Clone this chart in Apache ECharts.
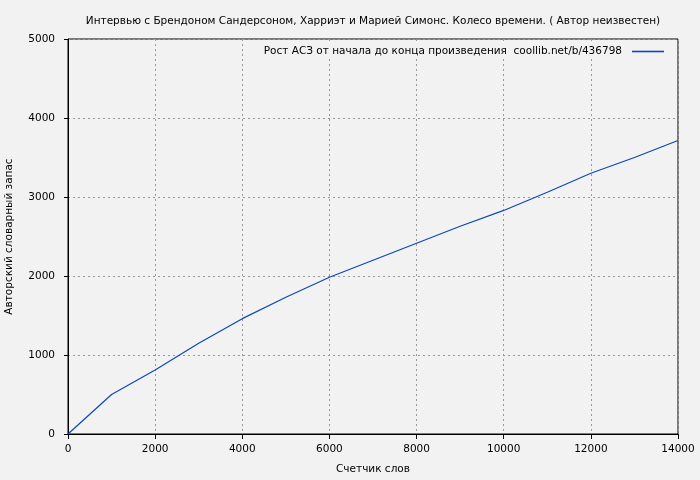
<!DOCTYPE html>
<html><head><meta charset="utf-8">
<script src="https://cdn.jsdelivr.net/npm/echarts@6/dist/echarts.min.js"></script>
<style>html,body{margin:0;padding:0;background:#f2f2f2;}#c{width:700px;height:480px;}</style>
</head><body><div id="c"></div>
<script>
const titleText = 'Интервью с Брендоном Сандерсоном, Харриэт и Марией Симонс. Колесо времени. ( Автор неизвестен)';
const seriesName = 'Рост АСЗ от начала до конца произведения  coollib.net/b/436798';
const xAxisName = 'Счетчик слов';
const yAxisName = 'Авторский словарный запас';
const words = [0, 1000, 2000, 3000, 4000, 5000, 6000, 7000, 8000, 9000, 10000, 11000, 12000, 13000, 14000];
const vocab = [0, 500, 810, 1150, 1460, 1730, 1985, 2200, 2415, 2630, 2830, 3060, 3300, 3500, 3715];

const font = 'DejaVu Sans';
const fs = 10.5;
const lineColor = '#0c48b8';
const chart = echarts.init(document.getElementById('c'), null, {renderer: 'canvas'});
chart.setOption({
  backgroundColor: '#f2f2f2',
  animation: false,
  title: {text: titleText, left: 368, top: 11, textAlign: 'center',
    textStyle: {fontFamily: font, fontSize: fs, fontWeight: 'normal', color: '#000'}},
  legend: {right: 34, top: 44, itemWidth: 32, itemHeight: 1.6, align: 'right', itemGap: 0,
    backgroundColor: '#f2f2f2', padding: [2, 2],
    textStyle: {fontFamily: font, fontSize: fs, color: '#000', padding: [0, 5, 0, 0]},
    data: [{name: seriesName, icon: 'rect', itemStyle: {color: lineColor}}]},
  grid: {left: 68, right: 22, top: 39, bottom: 46, outerBoundsMode: 'none', containLabel: false,
    show: true, borderColor: '#000', borderWidth: 1, backgroundColor: 'transparent'},
  xAxis: {type: 'value', min: 0, max: 14000, interval: 2000,
    name: xAxisName, nameLocation: 'middle', nameGap: 30,
    nameTextStyle: {fontFamily: font, fontSize: fs, color: '#000'},
    axisLine: {lineStyle: {color: '#000', width: 1}},
    axisTick: {show: true, length: 5, inside: false, lineStyle: {color: '#000'}},
    axisLabel: {fontFamily: font, fontSize: fs, color: '#000', margin: 10, formatter: v => String(v)},
    splitLine: {show: true, lineStyle: {color: '#999', type: [2, 3], width: 1}}},
  yAxis: {type: 'value', min: 0, max: 5000, interval: 1000,
    name: yAxisName, nameLocation: 'middle', nameGap: 53, nameRotate: 90,
    nameTextStyle: {fontFamily: font, fontSize: fs, color: '#000'},
    axisLine: {show: true, lineStyle: {color: '#000', width: 1}},
    axisTick: {show: true, length: 4, inside: false, lineStyle: {color: '#000'}},
    axisLabel: {fontFamily: font, fontSize: fs, color: '#000', margin: 13, formatter: v => String(v)},
    splitLine: {show: true, lineStyle: {color: '#999', type: [2, 3], width: 1}}},
  series: [{name: seriesName, type: 'line', showSymbol: false, symbol: 'none',
    data: words.map((w, i) => [w, vocab[i]]),
    lineStyle: {color: lineColor, width: 1.2}, itemStyle: {color: lineColor}}]
});
</script></body></html>
